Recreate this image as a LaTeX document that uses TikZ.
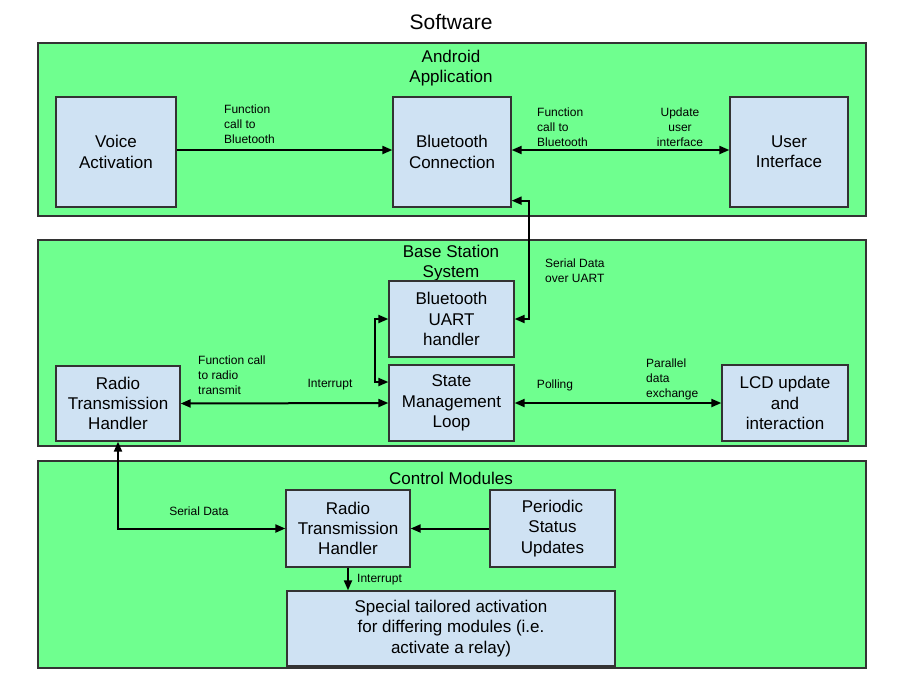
\documentclass[tikz,border=0pt]{standalone}
\usepackage{fontspec}
\setmainfont{Liberation Sans}
\usetikzlibrary{arrows.meta}
\definecolor{panelgreen}{RGB}{111,255,143}
\definecolor{boxblue}{RGB}{207,226,243}
\definecolor{edgegray}{RGB}{51,51,51}
\begin{document}
\begin{tikzpicture}[x=1pt,y=-1pt,
 panel/.style={draw=edgegray, line width=2pt, fill=panelgreen},
 blk/.style={draw=edgegray, line width=1.3pt, fill=boxblue, inner sep=0pt, align=center, font=\fontsize{17}{20.3}\selectfont},
 lbl/.style={font=\fontsize{12}{15.2}\selectfont, inner sep=0pt},
 ttl/.style={font=\fontsize{17}{20}\selectfont, align=center, inner sep=0pt},
 conn/.style={line width=2pt, -{Triangle[length=10pt,width=8pt]}},
 both/.style={line width=2pt, {Triangle[length=10pt,width=8pt]}-{Triangle[length=10pt,width=8pt]}}
]
\fill[white] (0,0) rectangle (904,678);
\useasboundingbox (0,0) rectangle (904,678);

\node[font=\fontsize{21}{24}\selectfont, inner sep=0pt] (title) at (451,22) {Software};

% panels
\draw[panel] (38,43) rectangle (866,216);
\draw[panel] (38,240) rectangle (866,446);
\draw[panel] (38,461) rectangle (866,668);

\node[ttl] (t1) at (451,68.5) {Android\\Application};
\node[ttl] (t2) at (451,263.5) {Base Station\\System};
\node[ttl] (t3) at (451,478) {Control Modules};

% Android
\node[blk, minimum width=120pt, minimum height=110pt] (va) at (116,152) {Voice\\Activation};
\node[blk, minimum width=118pt, minimum height=110pt] (bt) at (452,152) {Bluetooth\\Connection};
\node[blk, minimum width=118pt, minimum height=110pt] (ui) at (789,152) {User\\Interface};

% Base station
\node[blk, minimum width=125pt, minimum height=76pt] (uart) at (451.5,319) {Bluetooth\\UART\\handler};
\node[blk, minimum width=125pt, minimum height=76pt] (sm) at (451.5,403) {State\\Management\\Loop};
\node[blk, minimum width=124pt, minimum height=75pt] (rb) at (118,403.5) {Radio\\Transmission\\Handler};
\node[blk, minimum width=126pt, minimum height=76pt] (lcd) at (785,403) {LCD update\\and\\interaction};

% Control modules
\node[blk, minimum width=124pt, minimum height=77pt] (crth) at (348,528.5) {Radio\\Transmission\\Handler};
\node[blk, minimum width=125pt, minimum height=77pt] (psu) at (552.5,528.5) {Periodic\\Status\\Updates};
\node[blk, minimum width=328pt, minimum height=75pt] (sp) at (451,628.5) {Special tailored activation\\for differing modules (i.e.\\activate a relay)};

% connectors
\draw[conn] ([yshift=2pt]va.east) -- ([yshift=2pt]bt.west);
\draw[both] ([yshift=2pt]bt.east) -- ([yshift=2pt]ui.west);
\draw[both] ([yshift=7pt]bt.south east) -- ++(17,0) |- (uart.east);
\draw[both] (uart.west) -- ++(-13,0) |- ([yshift=21pt]sm.west);
\draw[both] (rb.east) -- (sm.west);
\draw[both] (sm.east) -- (lcd.west);
\draw[both] (rb.south) |- (crth.west);
\draw[conn] (psu.west) -- (crth.east);
\draw[conn] (crth.south) -- (crth.south |- sp.north);

% labels
\node[lbl, anchor=west, align=left] (l1) at (224,124) {Function\\call to\\Bluetooth};
\node[lbl, anchor=west, align=left] (l2) at (537,127) {Function\\call to\\Bluetooth};
\node[lbl, align=center] (l3) at (680,127) {Update\\user\\interface};
\node[lbl, anchor=west, align=left] (l4) at (545,270.5) {Serial Data\\over UART};
\node[lbl, anchor=west, align=left] (l5) at (198,375.5) {Function call\\to radio\\transmit};
\node[lbl] (l6) at (330,385) {Interrupt};
\node[lbl] (l7) at (555,385) {Polling};
\node[lbl, anchor=west, align=left] (l8) at (646,379.5) {Parallel\\data\\exchange};
\node[lbl] (l9) at (199,511) {Serial Data};
\node[lbl, anchor=west] (l10) at (357,580) {Interrupt};
\end{tikzpicture}
\end{document}
